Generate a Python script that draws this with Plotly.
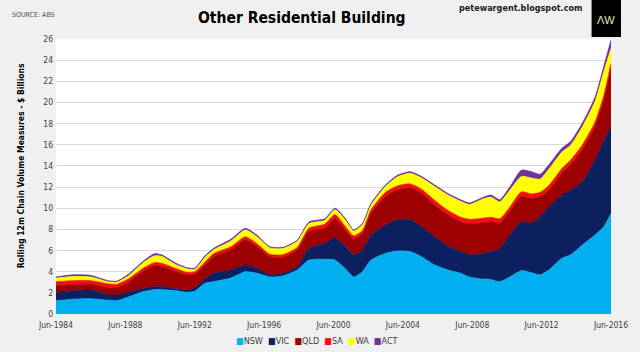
import plotly.graph_objects as go

dates = ["1984-06", "1985-06", "1986-06", "1987-06", "1987-12", "1988-08", "1989-06", "1990-02",
         "1990-07", "1991-05", "1991-12", "1992-06", "1993-01", "1993-07", "1994-07", "1995-05",
         "1996-01", "1996-10", "1997-07", "1998-05", "1999-01", "1999-12", "2000-07", "2001-02",
         "2001-08", "2002-02", "2002-08", "2003-06", "2004-02", "2004-11", "2005-07", "2006-04",
         "2007-01", "2007-10", "2008-04", "2009-01", "2009-07", "2010-01", "2010-08", "2011-04",
         "2011-11", "2012-05", "2012-11", "2013-08", "2014-02", "2014-10", "2015-07", "2016-01",
         "2016-06"]

nsw = [1.25, 1.40, 1.45, 1.30, 1.25, 1.60, 2.10, 2.30, 2.30, 2.20, 2.05, 2.15, 2.90, 3.05, 3.40, 4.00,
       3.85, 3.50, 3.60, 4.16, 5.10, 5.17, 5.10, 4.30, 3.50, 4.00, 5.10, 5.73, 5.95, 5.90, 5.40, 4.63,
       4.16, 3.85, 3.50, 3.30, 3.25, 3.05, 3.50, 4.10, 3.90, 3.70, 4.16, 5.26, 5.58, 6.50, 7.47, 8.25,
       9.50]
vic = [0.75, 0.80, 0.80, 0.55, 0.55, 0.45, 0.30, 0.30, 0.30, 0.20, 0.22, 0.30, 0.40, 0.80, 0.76, 0.63,
       0.45, 0.20, 0.25, 0.31, 1.10, 1.53, 2.10, 2.10, 2.10, 2.05, 2.37, 2.67, 2.95, 3.00, 2.85, 2.67,
       2.24, 2.05, 2.10, 2.40, 2.65, 3.15, 3.97, 4.60, 4.70, 5.50, 5.98, 5.99, 6.12, 6.00, 7.08, 8.15,
       8.20]
qld = [0.65, 0.60, 0.55, 0.65, 0.65, 0.95, 1.60, 1.95, 1.90, 1.60, 1.43, 1.30, 1.30, 1.55, 1.89, 2.37,
       2.06, 1.70, 1.50, 1.58, 1.60, 1.40, 1.80, 1.55, 1.50, 1.55, 2.03, 2.70, 2.80, 3.00, 3.15, 3.00,
       2.96, 2.80, 2.90, 2.90, 2.80, 2.37, 2.20, 2.40, 2.30, 1.90, 1.56, 2.05, 2.40, 3.00, 3.15, 3.80,
       5.50]
sa = [0.40, 0.35, 0.35, 0.35, 0.35, 0.30, 0.30, 0.30, 0.30, 0.30, 0.25, 0.25, 0.30, 0.30, 0.30, 0.30,
      0.29, 0.25, 0.25, 0.25, 0.30, 0.40, 0.40, 0.35, 0.30, 0.30, 0.35, 0.40, 0.40, 0.40, 0.40, 0.45,
      0.44, 0.45, 0.45, 0.45, 0.45, 0.43, 0.43, 0.45, 0.45, 0.40, 0.45, 0.45, 0.45, 0.45, 0.45, 0.45,
      0.50]
wa = [0.35, 0.40, 0.35, 0.20, 0.20, 0.30, 0.50, 0.65, 0.65, 0.35, 0.35, 0.20, 0.45, 0.35, 0.55, 0.65,
      0.65, 0.60, 0.60, 0.58, 0.45, 0.35, 0.45, 0.60, 0.45, 0.55, 0.45, 0.55, 0.85, 1.00, 1.05, 1.30,
      1.45, 1.50, 1.40, 1.80, 1.90, 1.60, 1.60, 1.45, 1.50, 1.25, 1.55, 1.55, 1.40, 1.70, 1.95, 2.25,
      1.40]
act = [0.10, 0.15, 0.15, 0.10, 0.10, 0.15, 0.15, 0.20, 0.15, 0.15, 0.10, 0.13, 0.15, 0.15, 0.16, 0.15,
       0.15, 0.11, 0.10, 0.12, 0.15, 0.15, 0.15, 0.15, 0.10, 0.12, 0.16, 0.15, 0.15, 0.15, 0.15, 0.15,
       0.15, 0.15, 0.15, 0.15, 0.20, 0.20, 0.30, 0.60, 0.60, 0.45, 0.40, 0.36, 0.35, 0.35, 0.40, 0.50,
       0.80]

names = ["NSW", "VIC", "QLD", "SA", "WA", "ACT"]
colors = ["#00B0F0", "#0C1F5E", "#9C0000", "#F01010", "#FFFF00", "#7030A0"]
series = [nsw, vic, qld, sa, wa, act]
tick_years = list(range(1984, 2017, 4))

fig = go.Figure()
for name, col, vals in zip(names, colors, series):
    fig.add_trace(go.Scatter(
        x=[d + "-15" for d in dates], y=vals, name=name, stackgroup="one", mode="lines",
        line=dict(color=col, width=0.8, shape="spline", smoothing=0.6),
        fillcolor=col, showlegend=False))

narrow = "DejaVu Sans Condensed, Liberation Sans Narrow, Arial Narrow, sans-serif"
fig.update_layout(
    width=640, height=352,
    margin=dict(l=56, r=20, t=39, b=38),
    paper_bgcolor="#F0F0F0", plot_bgcolor="#FFFFFF",
    font=dict(family=narrow, color="#404040", size=9),
    xaxis=dict(type="date", range=["1984-06-15", "2016-06-15"],
               tickvals=[f"{y}-06-15" for y in tick_years],
               ticktext=[f"Jun-{y}" for y in tick_years],
               showgrid=False, zeroline=False, showline=False, ticks="",
               ticklabeloverflow="allow", ticklabelstandoff=4,
               tickfont=dict(size=8.5, family=narrow, color="#404040")),
    yaxis=dict(range=[0, 26], dtick=2, showgrid=True, gridcolor="#D9D9D9", gridwidth=1,
               zeroline=False, showline=False, ticks="", ticklabelstandoff=2,
               tickfont=dict(size=8.5, family=narrow, color="#404040")),
)

fig.add_annotation(text="<b>Rolling 12m Chain Volume Measures - $ Billions</b>",
                   xref="paper", yref="paper", x=-0.0626, y=0.538, textangle=-90,
                   xanchor="center", yanchor="middle", showarrow=False,
                   font=dict(size=8.5, family=narrow, color="#000000"))

legend_html = "  ".join(
    f"<span style='color:{c}'>■</span>{n}" for n, c in zip(names, colors))
fig.add_annotation(text=legend_html, xref="paper", yref="paper", x=0.471, y=-0.098,
                   xanchor="center", yanchor="middle", showarrow=False,
                   font=dict(size=9, family=narrow, color="#404040"))

fig.add_annotation(text="<b>Other Residential Building</b>", xref="paper", yref="paper",
                   x=0.444, y=1.078, xanchor="center", yanchor="middle", showarrow=False,
                   font=dict(size=15.5, family=narrow, color="#000000"))
fig.add_annotation(text="SOURCE: ABS", xref="paper", yref="paper", x=-0.082, y=1.087,
                   xanchor="left", yanchor="middle", showarrow=False,
                   font=dict(size=7, family=narrow, color="#505050"))
fig.add_annotation(text="<b>petewargent.blogspot.com</b>", xref="paper", yref="paper",
                   x=0.952, y=1.113, xanchor="right", yanchor="middle", showarrow=False,
                   font=dict(size=9, family=narrow, color="#202020"))
fig.add_shape(type="rect", xref="paper", yref="paper", x0=0.965, x1=1.018, y0=1.007, y1=1.145,
              fillcolor="#000000", line=dict(width=0))
fig.add_annotation(text="ΛW", xref="paper", yref="paper", x=0.991, y=1.069, xanchor="center",
                   yanchor="middle", showarrow=False,
                   font=dict(size=11, family="Liberation Sans, Arial, sans-serif", color="#E8E0C0"))

fig.write_html("out.html")
